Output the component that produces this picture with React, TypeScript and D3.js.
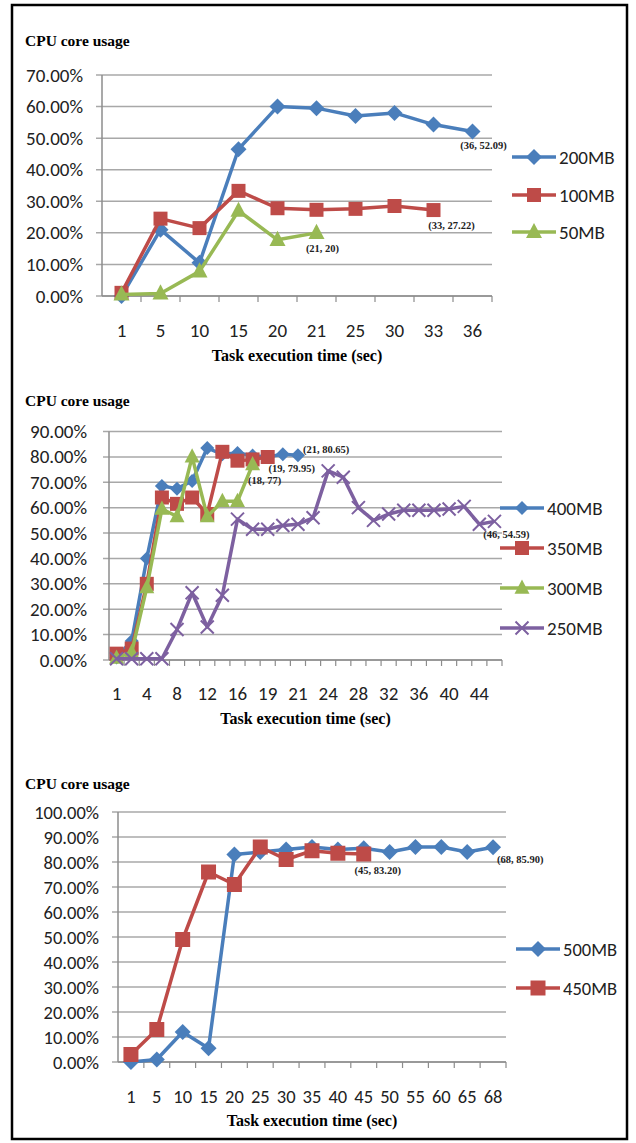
import React from "react";
import * as d3 from "d3";

// ---------- DATA ----------
const c1Categories = ["1", "5", "10", "15", "20", "21", "25", "30", "33", "36"];
const c1Series200 = [0, 21, 10.5, 46.5, 60, 59.5, 57, 58, 54.3, 52.09];
const c1Series100 = [1, 24.5, 21.5, 33.3, 27.8, 27.3, 27.6, 28.5, 27.22];
const c1Series50 = [0.5, 0.8, 7.8, 27, 17.8, 20];
const c1YTicks = [0, 10, 20, 30, 40, 50, 60, 70];

const c2Categories = ["1", "2", "4", "6", "8", "10", "12", "14", "16", "18", "19", "20", "21", "22", "24", "26", "28", "30", "32", "34", "36", "38", "40", "42", "44", "46"];
const c2Series400 = [1, 7.5, 40, 68.5, 67.5, 70.5, 83.5, 81, 81.5, 80.5, 80, 81, 80.65];
const c2Series350 = [2.5, 4.5, 30, 64, 61.5, 64, 57.5, 82, 78.5, 79, 79.95];
const c2Series300 = [0.8, 3, 28.5, 59.5, 56.5, 80, 56.5, 62.5, 62.5, 77];
const c2Series250 = [0.5, 0.5, 0.5, 0.5, 12, 26.5, 13, 25.5, 55.5, 51.5, 51.5, 53, 53.5, 56, 74.5, 72, 60, 55, 57.5, 59, 59, 59, 59.5, 60.5, 53.5, 54.59];
const c2YTicks = [0, 10, 20, 30, 40, 50, 60, 70, 80, 90];

const c3Categories = ["1", "5", "10", "15", "20", "25", "30", "35", "40", "45", "50", "55", "60", "65", "68"];
const c3Series500 = [0, 1, 12, 5.5, 83, 84, 85, 86, 85, 85.5, 84, 86, 86, 84, 85.9];
const c3Series450 = [3, 13, 49, 76, 71, 86, 81, 84.5, 83.5, 83.2];
const c3YTicks = [0, 10, 20, 30, 40, 50, 60, 70, 80, 90, 100];

const yTitle = "CPU core usage";
const xTitle = "Task execution time (sec)";

// ---------- STYLE ----------
const BLUE = "#4A7EBB";
const RED = "#BE4B48";
const GREEN = "#98B954";
const PURPLE = "#7D60A0";
const GRID = "#A8A8A8";
const AXIS = "#8C8C8C";
const SANS = "Carlito, Lato, 'Open Sans', sans-serif";
const SERIF = "'Liberation Serif', 'Times New Roman', serif";

type Marker = "diamond" | "square" | "triangle" | "x";

function markerPath(kind: Marker, s: number): string {
  if (kind === "diamond") return `M0,${-s}L${s},0L0,${s}L${-s},0Z`;
  if (kind === "square") return `M${-s},${-s}H${s}V${s}H${-s}Z`;
  if (kind === "triangle") {
    const h = s * 1.9;
    return `M0,${-h * 0.6}L${s},${h * 0.4}L${-s},${h * 0.4}Z`;
  }
  return `M${-s},${-s}L${s},${s}M${-s},${s}L${s},${-s}`;
}

function MarkerShape({ kind, s, color, x, y }: { kind: Marker; s: number; color: string; x: number; y: number }) {
  const d = markerPath(kind, s);
  if (kind === "x")
    return <path d={d} transform={`translate(${x},${y})`} fill="none" stroke={color} strokeWidth={2} />;
  return <path d={d} transform={`translate(${x},${y})`} fill={color} stroke="none" />;
}

interface Series {
  name: string;
  values: number[];
  color: string;
  marker: Marker;
  size: number;
}
interface Note {
  series: number;
  text: string;
  dx: number;
  dy: number;
  anchor?: string;
}
interface PanelProps {
  categories: string[];
  labelEvery: number;
  series: Series[];
  yTicks: number[];
  left: number;
  right: number;
  top: number;
  bottom: number;
  titleY: number;
  tickLabelY: number;
  xTitleY: number;
  labelRight: number;
  legendX: number;
  legendY: number[];
  notes: Note[];
  fontSize: number;
}

function Panel(p: PanelProps) {
  const x = d3.scaleBand<string>().domain(p.categories).range([p.left, p.right]).padding(0);
  const y = d3
    .scaleLinear()
    .domain([0, d3.max(p.yTicks) as number])
    .range([p.bottom, p.top]);
  const bw = x.bandwidth();
  const cx = (i: number) => (x(p.categories[i]) as number) + bw / 2;
  const line = d3
    .line<number>()
    .x((_, i) => cx(i))
    .y((v) => y(v));
  const fmt = d3.format(".2f");

  return (
    <g>
      <text x={25} y={p.titleY} fontFamily={SERIF} fontWeight="bold" fontSize={15.5} dominantBaseline="middle">
        {yTitle}
      </text>
      {p.yTicks.map((t) => (
        <g key={t}>
          <line x1={p.left - 6} x2={p.right} y1={y(t)} y2={y(t)} stroke={GRID} strokeWidth={1.5} />
          <text x={p.labelRight} y={y(t)} textAnchor="end" dominantBaseline="central" fontFamily={SANS} fontSize={p.fontSize} fill="#222">
            {fmt(t)}%
          </text>
        </g>
      ))}
      <line x1={p.left} x2={p.left} y1={p.top} y2={p.bottom} stroke={AXIS} strokeWidth={1.5} />
      <line x1={p.left} x2={p.right} y1={p.bottom} y2={p.bottom} stroke={AXIS} strokeWidth={1.5} />
      {p.categories.map((c, i) => (
        <line key={"t" + i} x1={(x(c) as number) + bw} x2={(x(c) as number) + bw} y1={p.bottom} y2={p.bottom + 6} stroke={AXIS} strokeWidth={1.2} />
      ))}
      {p.categories.map((c, i) =>
        i % p.labelEvery === 0 ? (
          <text key={"l" + i} x={cx(i)} y={p.tickLabelY} textAnchor="middle" dominantBaseline="central" fontFamily={SANS} fontSize={p.fontSize} fill="#222">
            {c}
          </text>
        ) : null
      )}
      <text x={(p.left + p.right) / 2} y={p.xTitleY} textAnchor="middle" dominantBaseline="central" fontFamily={SERIF} fontWeight="bold" fontSize={16}>
        {xTitle}
      </text>
      {p.series.map((s) => (
        <g key={s.name}>
          <path d={line(s.values) as string} fill="none" stroke={s.color} strokeWidth={3.5} strokeLinejoin="round" />
          {s.values.map((v, i) => (
            <MarkerShape key={i} kind={s.marker} s={s.size} color={s.color} x={cx(i)} y={y(v)} />
          ))}
        </g>
      ))}
      {p.notes.map((n, k) => {
        const s = p.series[n.series];
        const i = s.values.length - 1;
        return (
          <text key={"n" + k} x={cx(i) + n.dx} y={y(s.values[i]) + n.dy} textAnchor={n.anchor || "middle"} dominantBaseline="central" fontFamily={SERIF} fontWeight="bold" fontSize={10.5} fill="#222">
            {n.text}
          </text>
        );
      })}
      {p.series.map((s, k) => (
        <g key={"lg" + k}>
          <line x1={p.legendX} x2={p.legendX + 44} y1={p.legendY[k]} y2={p.legendY[k]} stroke={s.color} strokeWidth={3.5} />
          <MarkerShape kind={s.marker} s={s.size} color={s.color} x={p.legendX + 22} y={p.legendY[k]} />
          <text x={p.legendX + 47} y={p.legendY[k]} dominantBaseline="central" fontFamily={SANS} fontSize={p.fontSize} fill="#222">
            {s.name}
          </text>
        </g>
      ))}
    </g>
  );
}

export default function App() {
  return (
    <svg width={636} height={1143} style={{ position: "absolute", left: 0, top: 0, background: "#fff" }}>
      <rect x={0} y={0} width={636} height={1143} fill="#fff" />
      <rect x={12} y={5} width={615} height={1134} fill="none" stroke="#000" strokeWidth={2.5} />
      <Panel
        categories={c1Categories}
        labelEvery={1}
        series={[
          { name: "200MB", values: c1Series200, color: BLUE, marker: "diamond", size: 8 },
          { name: "100MB", values: c1Series100, color: RED, marker: "square", size: 7 },
          { name: "50MB", values: c1Series50, color: GREEN, marker: "triangle", size: 8 },
        ]}
        yTicks={c1YTicks}
        left={102}
        right={492}
        top={75}
        bottom={296}
        titleY={42}
        tickLabelY={330}
        xTitleY={355}
        labelRight={83}
        legendX={512}
        legendY={[157, 195, 232]}
        notes={[
          { series: 0, text: "(36, 52.09)", dx: 11, dy: 14 },
          { series: 1, text: "(33, 27.22)", dx: 18, dy: 15 },
          { series: 2, text: "(21, 20)", dx: 6, dy: 16 },
        ]}
        fontSize={19}
      />
      <Panel
        categories={c2Categories}
        labelEvery={2}
        series={[
          { name: "400MB", values: c2Series400, color: BLUE, marker: "diamond", size: 7 },
          { name: "350MB", values: c2Series350, color: RED, marker: "square", size: 7 },
          { name: "300MB", values: c2Series300, color: GREEN, marker: "triangle", size: 7.5 },
          { name: "250MB", values: c2Series250, color: PURPLE, marker: "x", size: 6.5 },
        ]}
        yTicks={c2YTicks}
        left={109}
        right={502}
        top={431.5}
        bottom={660}
        titleY={402}
        tickLabelY={693}
        xTitleY={718}
        labelRight={87}
        legendX={500}
        legendY={[508, 548, 588, 628]}
        notes={[
          { series: 0, text: "(21, 80.65)", dx: 5, dy: -6, anchor: "start" },
          { series: 1, text: "(19, 79.95)", dx: 24, dy: 11 },
          { series: 2, text: "(18, 77)", dx: 12, dy: 16 },
          { series: 3, text: "(46, 54.59)", dx: 12, dy: 13 },
        ]}
        fontSize={19}
      />
      <Panel
        categories={c3Categories}
        labelEvery={1}
        series={[
          { name: "500MB", values: c3Series500, color: BLUE, marker: "diamond", size: 8 },
          { name: "450MB", values: c3Series450, color: RED, marker: "square", size: 7.5 },
        ]}
        yTicks={c3YTicks}
        left={118}
        right={506}
        top={812}
        bottom={1062}
        titleY={785}
        tickLabelY={1096}
        xTitleY={1120}
        labelRight={99}
        legendX={516}
        legendY={[949, 988]}
        notes={[
          { series: 1, text: "(45, 83.20)", dx: 14, dy: 16 },
          { series: 0, text: "(68, 85.90)", dx: 4, dy: 12, anchor: "start" },
        ]}
        fontSize={18.5}
      />
    </svg>
  );
}
